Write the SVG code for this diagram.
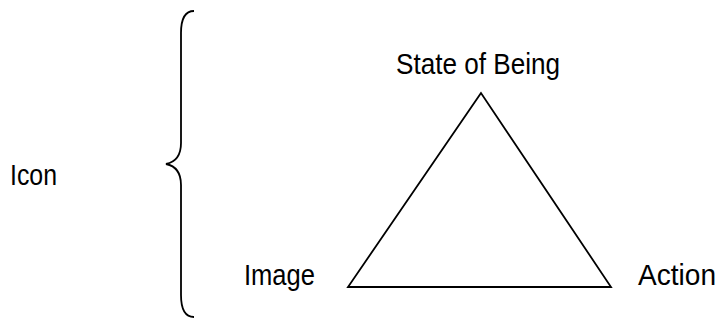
<svg xmlns="http://www.w3.org/2000/svg" width="718" height="320" viewBox="0 0 718 320">
<style>
.t{font-family:"Liberation Sans",Arial,sans-serif;font-size:29px;fill:#000}
.s{fill:none;stroke:#000;stroke-width:1.8}
</style>
<rect width="718" height="320" fill="#fff"/>
<g id="connectors">
<path id="brace" class="s" d="M194,11 C185,11 181,18 181,33 L181,143 C181,155 176,162 166,164 C176,166 181,173 181,185 L181,295 C181,310 185,317 194,317"/>
<polygon id="triangle" class="s" points="481,93 348,287 611,287"/>
</g>
<g id="icon"><text class="t" x="10" y="185" textLength="47" lengthAdjust="spacingAndGlyphs">Icon</text></g>
<g id="state"><text class="t" x="396" y="74" textLength="164" lengthAdjust="spacingAndGlyphs">State of Being</text></g>
<g id="image"><text class="t" x="244" y="285" textLength="71" lengthAdjust="spacingAndGlyphs">Image</text></g>
<g id="action"><text class="t" x="638" y="285" textLength="78" lengthAdjust="spacingAndGlyphs">Action</text></g>
</svg>
